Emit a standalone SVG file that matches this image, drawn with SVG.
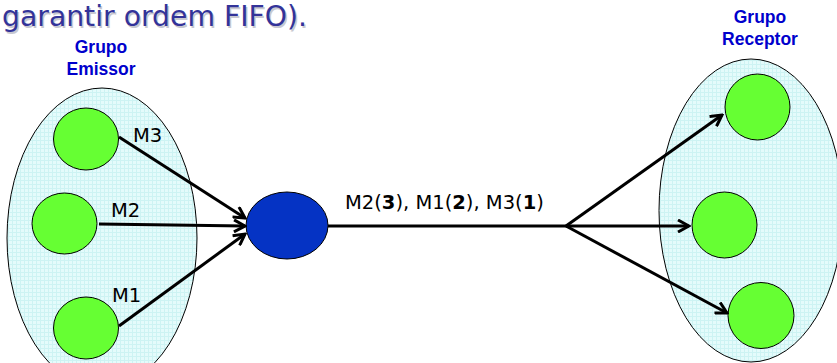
<svg xmlns="http://www.w3.org/2000/svg" width="837" height="363" viewBox="0 0 837 363">
  <style>
    .title { font-family: "DejaVu Sans", Verdana, sans-serif; font-size: 28px; fill: #333399; }
    .title-shadow { font-family: "DejaVu Sans", Verdana, sans-serif; font-size: 28px; fill: #c8c8d0; }
    .group-label { font-family: "Liberation Sans", Arial, sans-serif; font-size: 17.5px; font-weight: bold; fill: #0000cc; text-anchor: middle; }
    .msg { font-family: "DejaVu Sans", Verdana, sans-serif; font-size: 19.5px; fill: #000000; }
    .group { fill: url(#grid); stroke: #000000; stroke-width: 1; }
    .member { fill: #66ff33; stroke: #000000; stroke-width: 1; }
    .sequencer { fill: #0533c4; stroke: #000000; stroke-width: 1; }
    .link { stroke: #000000; stroke-width: 3; fill: none; }
    .arrow { stroke: #000000; stroke-width: 3; fill: none; marker-end: url(#chevron); }
  </style>
  <defs>
    <pattern id="grid" width="4" height="4" patternUnits="userSpaceOnUse">
      <rect width="4" height="4" fill="#e4fbfb"/>
      <path d="M0,0.5 H4 M0.5,0 V4" stroke="#cdf3f3" stroke-width="1"/>
    </pattern>
    <marker id="chevron" viewBox="0 0 14 14" refX="12" refY="7" markerWidth="14" markerHeight="14" markerUnits="userSpaceOnUse" orient="auto">
      <path d="M1,1 L12,7 L1,13" fill="none" stroke="#000000" stroke-width="3" stroke-linejoin="miter"/>
    </marker>
  </defs>

  <!-- heading fragment -->
  <text class="title-shadow" x="3.5" y="27.5" textLength="305" lengthAdjust="spacingAndGlyphs">garantir ordem FIFO).</text>
  <text class="title" x="2" y="26" textLength="305" lengthAdjust="spacingAndGlyphs">garantir ordem FIFO).</text>

  <!-- sender group -->
  <g id="grupo-emissor">
    <ellipse class="group" cx="102" cy="238" rx="95" ry="150"/>
    <text class="group-label" x="101" y="53">Grupo</text>
    <text class="group-label" x="101" y="75">Emissor</text>
  </g>
  <g id="emissor-m3">
    <ellipse class="member" cx="86" cy="139" rx="32.5" ry="31"/>
  </g>
  <g id="emissor-m2">
    <ellipse class="member" cx="64.5" cy="223.5" rx="32.5" ry="30.5"/>
  </g>
  <g id="emissor-m1">
    <ellipse class="member" cx="86" cy="328" rx="32.5" ry="31"/>
  </g>

  <!-- sequencer -->
  <g id="sequenciador">
    <ellipse class="sequencer" cx="287" cy="225.5" rx="41" ry="33.5"/>
  </g>

  <!-- receiver group -->
  <g id="grupo-receptor">
    <ellipse class="group" cx="751" cy="210.5" rx="92" ry="151.5"/>
    <text class="group-label" x="760" y="23">Grupo</text>
    <text class="group-label" x="760" y="45">Receptor</text>
  </g>
  <g id="receptor-1">
    <ellipse class="member" cx="757.5" cy="107" rx="32.5" ry="33"/>
  </g>
  <g id="receptor-2">
    <ellipse class="member" cx="724.5" cy="225" rx="32.5" ry="33"/>
  </g>
  <g id="receptor-3">
    <ellipse class="member" cx="761" cy="315.5" rx="33" ry="33"/>
  </g>

  <!-- connectors -->
  <g id="connectors">
    <line class="arrow" x1="119" y1="137" x2="245" y2="218"/>
    <line class="arrow" x1="99" y1="224" x2="245" y2="226"/>
    <line class="arrow" x1="119" y1="326" x2="245" y2="234"/>
    <line class="link" x1="328" y1="226" x2="567" y2="226"/>
    <line class="arrow" x1="566" y1="226" x2="722" y2="115"/>
    <line class="arrow" x1="566" y1="226" x2="689" y2="226"/>
    <line class="arrow" x1="566" y1="226" x2="727" y2="313"/>
  </g>

  <!-- message labels -->
  <g id="labels">
    <text class="msg" x="133" y="142">M3</text>
    <text class="msg" x="111" y="217">M2</text>
    <text class="msg" x="112" y="302">M1</text>
    <text class="msg" x="345" y="209">M2(<tspan font-weight="bold">3</tspan>), M1(<tspan font-weight="bold">2</tspan>), M3(<tspan font-weight="bold">1</tspan>)</text>
  </g>
</svg>
